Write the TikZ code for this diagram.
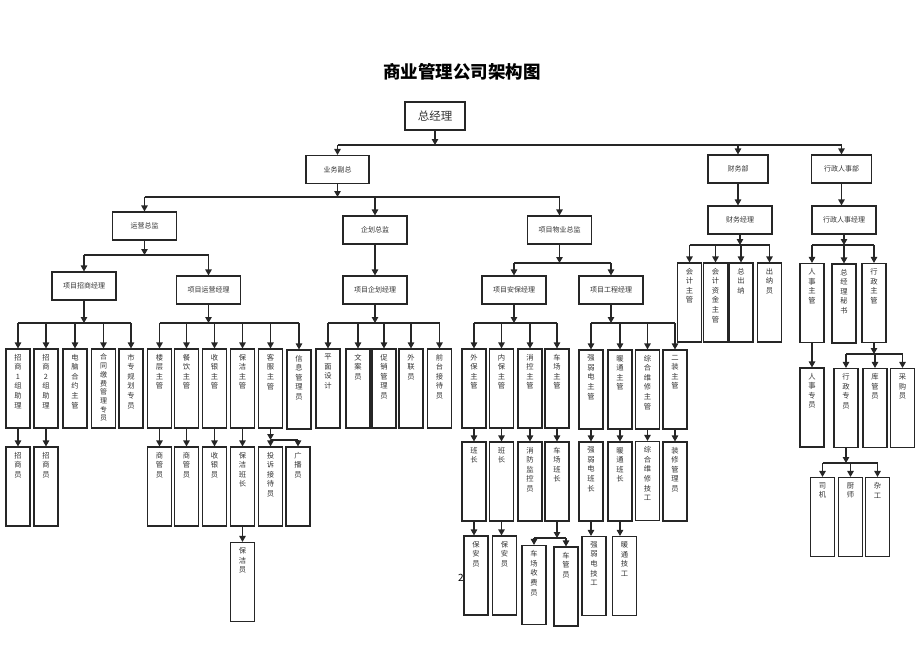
\documentclass[tikz,border=0pt]{standalone}
\usepackage{fontspec}
\setmainfont{Noto Sans CJK SC}
\usetikzlibrary{arrows.meta}
\makeatletter
% one character per line, from the top of the box
\newcommand\vchars[1]{\vbox to 69pt{\@tfor\vc@ch:=#1\do{\hbox to 12pt{\hss\vc@ch\hss}}\vfill}}
\makeatother
\tikzset{
  conn/.style={line width=1.1pt, draw=black!85},
  arr/.style={conn, -{Triangle[length=6pt,width=6.5pt]}},
  box/.style={draw=black!85, line width=1.1pt, minimum width=64pt, minimum height=28pt,
    inner sep=0pt, text=black!80, font=\fontsize{7}{9}\selectfont},
  colbox/.style={draw=black!85, line width=1.1pt, minimum width=24pt, minimum height=79pt,
    inner xsep=0pt, inner ysep=5pt, text=black!80, font=\fontsize{7.3}{9.6}\selectfont},
  tight/.style={font=\fontsize{7}{8.7}\selectfont},
}
\begin{document}
\begin{tikzpicture}[x=1pt,y=-1pt]
\useasboundingbox (0,0) rectangle (920,651);
\node (title) at (462,72) {\fontsize{17.5}{20}\selectfont\bfseries 商业管理公司架构图};
\node (pg) at (461,578) {\fontsize{10}{12}\selectfont 2};
% top levels
\node[box, minimum width=60pt, font=\fontsize{11.5}{13}\selectfont] (gm) at (435,116) {总经理};
\node[box, minimum width=63pt] (yw) at (337.5,169.5) {业务副总};
\node[box, minimum width=60pt] (cw) at (738,169) {财务部};
\node[box, minimum width=60pt] (xr) at (841.5,169) {行政人事部};
\node[box] (yy) at (144.5,226) {运营总监};
\node[box] (qh) at (375,230) {企划总监};
\node[box] (wy) at (559.5,230) {项目物业总监};
\node[box] (cwjl) at (740,220) {财务经理};
\node[box] (xrjl) at (844,220) {行政人事经理};
\node[box] (zs) at (84,286) {项目招商经理};
\node[box] (yyjl) at (208.5,290) {项目运营经理};
\node[box] (qhjl) at (375,290) {项目企划经理};
\node[box] (ab) at (514,290) {项目安保经理};
\node[box] (gc) at (611,290) {项目工程经理};
% first row of columns
\node[colbox] (zs1) at (18,388.5) {\vchars{招商1组助理}};
\node[colbox] (zs2) at (46,388.5) {\vchars{招商2组助理}};
\node[colbox] (dn) at (75,388.5) {\vchars{电脑合约主管}};
\node[colbox, tight] (ht) at (103.5,388.5) {\vchars{合同缴费管理专员}};
\node[colbox] (sz) at (131,388.5) {\vchars{市专规划专员}};
\node[colbox] (lc) at (159.5,388.5) {\vchars{楼层主管}};
\node[colbox] (cy) at (186.5,388.5) {\vchars{餐饮主管}};
\node[colbox] (sy) at (214.5,388.5) {\vchars{收银主管}};
\node[colbox] (bj) at (242.5,388.5) {\vchars{保洁主管}};
\node[colbox] (kf) at (270.5,388.5) {\vchars{客服主管}};
\node[colbox] (xx) at (299,389.5) {\vchars{信息管理员}};
\node[colbox] (pm) at (328,388.5) {\vchars{平面设计}};
\node[colbox] (wa) at (358,388.5) {\vchars{文案员}};
\node[colbox] (cx) at (384,388.5) {\vchars{促销管理员}};
\node[colbox] (wl) at (411,388.5) {\vchars{外联员}};
\node[colbox] (qt) at (439.5,388.5) {\vchars{前台接待员}};
\node[colbox] (wb) at (474,388.5) {\vchars{外保主管}};
\node[colbox] (nb) at (501.5,388.5) {\vchars{内保主管}};
\node[colbox] (xk) at (530,388.5) {\vchars{消控主管}};
\node[colbox] (cc) at (557,388.5) {\vchars{车场主管}};
\node[colbox] (qr) at (591,389.5) {\vchars{强弱电主管}};
\node[colbox] (nt) at (620,389.5) {\vchars{暖通主管}};
\node[colbox] (zh) at (647.5,389.5) {\vchars{综合维修主管}};
\node[colbox] (ez) at (675,389.5) {\vchars{二装主管}};
\node[colbox] (kj) at (689.5,302.5) {\vchars{会计主管}};
\node[colbox] (kjzj) at (715.5,302.5) {\vchars{会计资金主管}};
\node[colbox] (zcn) at (741,302.5) {\vchars{总出纳}};
\node[colbox] (cny) at (769.5,302.5) {\vchars{出纳员}};
\node[colbox] (rs) at (812,303) {\vchars{人事主管}};
\node[colbox] (ms) at (844,303.5) {\vchars{总经理秘书}};
\node[colbox] (xz) at (874,303) {\vchars{行政主管}};
% second row
\node[colbox] (zsy1) at (18,486.5) {\vchars{招商员}};
\node[colbox] (zsy2) at (46,486.5) {\vchars{招商员}};
\node[colbox] (sg1) at (159.5,486.5) {\vchars{商管员}};
\node[colbox] (sg2) at (186.5,486.5) {\vchars{商管员}};
\node[colbox] (syy) at (214.5,486.5) {\vchars{收银员}};
\node[colbox] (bjbz) at (242.5,486.5) {\vchars{保洁班长}};
\node[colbox] (ts) at (270.5,486.5) {\vchars{投诉接待员}};
\node[colbox] (gb) at (298,486.5) {\vchars{广播员}};
\node[colbox] (bz1) at (474,481.5) {\vchars{班长}};
\node[colbox] (bz2) at (501.5,481.5) {\vchars{班长}};
\node[colbox] (xf) at (530,481.5) {\vchars{消防监控员}};
\node[colbox] (ccbz) at (557,481.5) {\vchars{车场班长}};
\node[colbox] (qrbz) at (591,481.5) {\vchars{强弱电班长}};
\node[colbox] (ntbz) at (620,481.5) {\vchars{暖通班长}};
\node[colbox] (zhjg) at (647.5,481) {\vchars{综合维修技工}};
\node[colbox] (zxgl) at (675,481.5) {\vchars{装修管理员}};
\node[colbox] (rszy) at (812,407.5) {\vchars{人事专员}};
\node[colbox] (xzzy) at (846,408) {\vchars{行政专员}};
\node[colbox] (kg) at (875,408) {\vchars{库管员}};
\node[colbox] (cg) at (902.5,408) {\vchars{采购员}};
% third row
\node[colbox] (bjy) at (242.5,582) {\vchars{保洁员}};
\node[colbox] (bay1) at (476,575.5) {\vchars{保安员}};
\node[colbox] (bay2) at (504.5,575.5) {\vchars{保安员}};
\node[colbox] (sf) at (534,585) {\vchars{车场收费员}};
\node[colbox] (cgy) at (566,586.5) {\vchars{车管员}};
\node[colbox] (qrjg) at (594,576) {\vchars{强弱电技工}};
\node[colbox] (ntjg) at (624.5,576) {\vchars{暖通技工}};
\node[colbox] (sj) at (822.5,517) {\vchars{司机}};
\node[colbox] (cs) at (850.5,517) {\vchars{厨师}};
\node[colbox] (zg) at (877.5,517) {\vchars{杂工}};
% bus lines
\coordinate (bus0) at (0,145);
\coordinate (bus1) at (0,197);
\coordinate (bus2) at (0,255);
\coordinate (bus3) at (0,263);
\coordinate (bus4) at (0,245);
\coordinate (bus5) at (0,323);
\coordinate (bus6) at (0,354);
\coordinate (bus7) at (0,440);
\coordinate (bus8) at (0,463);
\coordinate (bus9) at (0,538);
\foreach \p/\bus/\first/\last/\kids in {
    gm/bus0/yw/xr/{yw,cw,xr},
    yw/bus1/yy/wy/{yy,qh,wy},
    yy/bus2/zs/yyjl/{zs,yyjl},
    wy/bus3/ab/gc/{ab,gc},
    cwjl/bus4/kj/cny/{kj,kjzj,zcn,cny},
    xrjl/bus4/rs/xz/{rs,ms,xz},
    zs/bus5/zs1/sz/{zs1,zs2,dn,ht,sz},
    yyjl/bus5/lc/xx/{lc,cy,sy,bj,kf,xx},
    qhjl/bus5/pm/qt/{pm,wa,cx,wl,qt},
    ab/bus5/wb/cc/{wb,nb,xk,cc},
    gc/bus5/qr/ez/{qr,nt,zh,ez},
    xz/bus6/xzzy/cg/{xzzy,kg,cg},
    kf/bus7/ts/gb/{ts,gb},
    xzzy/bus8/sj/zg/{sj,cs,zg},
    ccbz/bus9/sf/cgy/{sf,cgy}}{
  \draw[arr] (\p.south) -- (\p.south |- \bus);
  \draw[conn] (\first.north |- \bus) -- (\last.north |- \bus);
  \foreach \k in \kids \draw[arr] (\k.north |- \bus) -- (\k.north);
}
% single links
\foreach \a/\b in {qh/qhjl, cw/cwjl, xr/xrjl, zs1/zsy1, zs2/zsy2, lc/sg1, cy/sg2, sy/syy,
    bj/bjbz, bjbz/bjy, wb/bz1, nb/bz2, xk/xf, cc/ccbz, bz1/bay1, bz2/bay2, qr/qrbz,
    nt/ntbz, zh/zhjg, ez/zxgl, qrbz/qrjg, ntbz/ntjg, rs/rszy}
  \draw[arr] (\a.south) -- (\a.south |- \b.north);
\end{tikzpicture}
\end{document}
